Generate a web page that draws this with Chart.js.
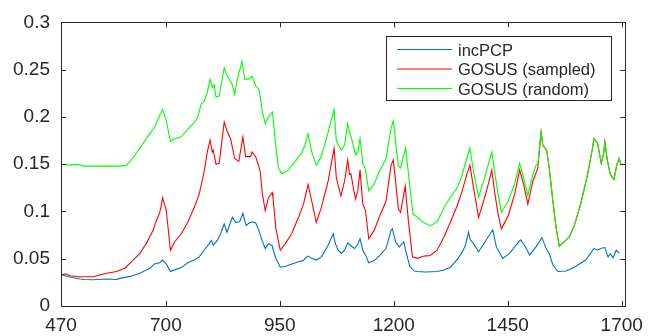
<!DOCTYPE html>
<html>
<head>
<meta charset="utf-8">
<title>incPCP vs GOSUS</title>
<script src="https://cdn.jsdelivr.net/npm/chart.js@4.4.1/dist/chart.umd.min.js"></script>
<style>
  html, body { margin: 0; padding: 0; background: #fff; }
  #wrap { width: 651px; height: 336px; }
</style>
</head>
<body>
<div id="wrap"><canvas id="chart" width="651" height="336"></canvas></div>
<script>
// ── данные ──
const xTicks = [470, 700, 950, 1200, 1450, 1700];
const yTicks = [0, 0.05, 0.1, 0.15, 0.2, 0.25, 0.3];

const seriesNames  = ['incPCP', 'GOSUS (sampled)', 'GOSUS (random)'];
const seriesColors = ['#0072BD', '#FF0000', '#00FF00'];

const incX = [470, 490, 512, 520, 541, 570, 592, 599, 621, 643, 657, 665, 675, 686, 693, 701, 710, 719, 734, 748,
  762, 773, 784, 795, 800, 804, 813, 820, 828, 834, 846, 853, 862, 869, 876, 882, 889, 897, 904, 911,
  918, 925, 933, 940, 951, 962, 976, 991, 1001, 1011, 1020, 1030, 1041, 1056, 1067, 1072, 1078, 1085, 1092, 1099,
  1105, 1114, 1121, 1126, 1132, 1138, 1145, 1157, 1168, 1183, 1194, 1197, 1204, 1212, 1222, 1228, 1235, 1245, 1251, 1270,
  1295, 1310, 1324, 1339, 1350, 1357, 1364, 1368, 1375, 1386, 1400, 1417, 1425, 1439, 1454, 1465, 1478, 1487, 1498, 1512,
  1525, 1534, 1541, 1549, 1560, 1578, 1599, 1621, 1639, 1647, 1655, 1663, 1670, 1675, 1681, 1688, 1695];
const incY = [0.033, 0.0306, 0.0285, 0.028, 0.0278, 0.0285, 0.028, 0.0292, 0.0313, 0.0347, 0.038, 0.040, 0.0445, 0.0458, 0.0486, 0.0445, 0.0365, 0.0382, 0.0406, 0.0458,
  0.0486, 0.052, 0.059, 0.066, 0.0694, 0.0643, 0.0694, 0.0764, 0.0868, 0.078, 0.0938, 0.0885, 0.089, 0.098, 0.0851, 0.0875, 0.089, 0.088, 0.080, 0.0694,
  0.0608, 0.066, 0.064, 0.052, 0.041, 0.0417, 0.0445, 0.0469, 0.048, 0.0528, 0.0504, 0.0486, 0.052, 0.0643, 0.0764, 0.066, 0.059, 0.0556, 0.059, 0.0667,
  0.064, 0.0608, 0.0653, 0.0712, 0.059, 0.0538, 0.0458, 0.048, 0.0528, 0.0608, 0.080, 0.0816, 0.0677, 0.0625, 0.0677, 0.055, 0.042, 0.037, 0.0365, 0.036,
  0.0365, 0.038, 0.041, 0.049, 0.057, 0.064, 0.078, 0.070, 0.066, 0.0573, 0.0677, 0.0806, 0.0625, 0.0504, 0.0556, 0.0625, 0.070, 0.0643, 0.054, 0.0625,
  0.0723, 0.061, 0.0556, 0.0434, 0.0365, 0.037, 0.0417, 0.0486, 0.0608, 0.059, 0.061, 0.0618, 0.052, 0.055, 0.051, 0.059, 0.056];

// после ~1520 обе кривые GOSUS совпадают
const sampX = [470, 480, 490, 512, 541, 556, 570, 592, 610, 625, 643, 657, 672, 679, 686, 689, 693, 701, 710, 719,
  734, 748, 762, 773, 784, 791, 797, 802, 804, 810, 817, 828, 835, 842, 851, 860, 869, 875, 886, 889,
  897, 904, 907, 912, 918, 925, 933, 935, 941, 951, 962, 976, 991, 1002, 1012, 1020, 1030, 1041, 1056, 1069,
  1074, 1084, 1092, 1099, 1103, 1106, 1110, 1116, 1121, 1126, 1132, 1138, 1145, 1157, 1168, 1183, 1194, 1199, 1204, 1210,
  1215, 1225, 1232, 1241, 1252, 1266, 1280, 1295, 1310, 1324, 1339, 1349, 1360, 1367, 1375, 1386, 1397, 1407, 1415, 1422,
  1429, 1436, 1451, 1465, 1476, 1485, 1494, 1505, 1512, 1516, 1523, 1527, 1532, 1536, 1541, 1549, 1556, 1563, 1574, 1585,
  1596, 1610, 1625, 1636, 1639, 1647, 1655, 1660, 1663, 1668, 1675, 1683, 1689, 1694, 1699];
const sampY = [0.033, 0.034, 0.032, 0.031, 0.031, 0.033, 0.0347, 0.0365, 0.040, 0.047, 0.0556, 0.066, 0.080, 0.090, 0.098, 0.104, 0.1146, 0.1007, 0.059, 0.0677,
  0.0764, 0.0885, 0.104, 0.118, 0.142, 0.163, 0.1754, 0.163, 0.165, 0.150, 0.151, 0.1945, 0.184, 0.177, 0.156, 0.153, 0.179, 0.158, 0.158, 0.163,
  0.158, 0.1476, 0.142, 0.118, 0.1007, 0.1146, 0.120, 0.115, 0.083, 0.059, 0.066, 0.0764, 0.0938, 0.108, 0.1285, 0.111, 0.0885, 0.104, 0.132, 0.1667,
  0.1354, 0.1163, 0.132, 0.1545, 0.139, 0.140, 0.1285, 0.113, 0.1215, 0.144, 0.1077, 0.1007, 0.0712, 0.080, 0.0938, 0.111, 0.149, 0.1545, 0.132, 0.1025,
  0.099, 0.127, 0.090, 0.052, 0.0504, 0.0528, 0.0535, 0.059, 0.073, 0.0885, 0.106, 0.120, 0.139, 0.149, 0.125, 0.0938, 0.111, 0.1285, 0.144, 0.118,
  0.097, 0.0816, 0.0955, 0.118, 0.144, 0.1285, 0.1077, 0.132, 0.1406, 0.146, 0.184, 0.170, 0.167, 0.163, 0.146, 0.111, 0.083, 0.063, 0.068, 0.073,
  0.085, 0.108, 0.139, 0.167, 0.177, 0.172, 0.151, 0.160, 0.174, 0.155, 0.139, 0.134, 0.149, 0.156, 0.149];

const randX = [470, 490, 505, 520, 560, 600, 614, 625, 643, 657, 675, 686, 693, 701, 710, 719, 734, 748, 762, 770,
  777, 784, 791, 797, 802, 806, 810, 817, 828, 835, 846, 851, 857, 867, 873, 882, 889, 897, 904, 907,
  912, 918, 925, 934, 940, 947, 954, 969, 984, 998, 1005, 1012, 1020, 1030, 1041, 1056, 1069, 1074, 1085, 1092,
  1099, 1103, 1109, 1116, 1121, 1126, 1132, 1138, 1145, 1157, 1168, 1183, 1194, 1199, 1204, 1210, 1215, 1226, 1234, 1242,
  1252, 1262, 1280, 1295, 1310, 1324, 1339, 1349, 1360, 1367, 1375, 1386, 1397, 1407, 1415, 1422, 1429, 1436, 1451, 1465,
  1476, 1485, 1494, 1505, 1512, 1516, 1523, 1527, 1532, 1536, 1541, 1549, 1556, 1563, 1574, 1585, 1596, 1610, 1625, 1636,
  1639, 1647, 1655, 1660, 1663, 1668, 1675, 1683, 1689, 1694, 1699];
const randY = [0.150, 0.149, 0.150, 0.148, 0.148, 0.148, 0.149, 0.155, 0.167, 0.177, 0.189, 0.201, 0.208, 0.196, 0.174, 0.177, 0.179, 0.187, 0.194, 0.200,
  0.213, 0.217, 0.226, 0.240, 0.231, 0.234, 0.221, 0.222, 0.252, 0.243, 0.234, 0.224, 0.240, 0.259, 0.240, 0.240, 0.243, 0.233, 0.229, 0.221,
  0.205, 0.193, 0.200, 0.205, 0.174, 0.146, 0.140, 0.144, 0.153, 0.162, 0.170, 0.182, 0.163, 0.149, 0.158, 0.184, 0.208, 0.174, 0.165, 0.170,
  0.193, 0.184, 0.174, 0.160, 0.163, 0.177, 0.151, 0.144, 0.122, 0.129, 0.142, 0.156, 0.188, 0.196, 0.174, 0.148, 0.146, 0.167, 0.132, 0.097,
  0.094, 0.089, 0.085, 0.089, 0.104, 0.115, 0.125, 0.137, 0.156, 0.167, 0.142, 0.115, 0.132, 0.149, 0.163, 0.139, 0.118, 0.099, 0.111, 0.129,
  0.151, 0.135, 0.117, 0.139, 0.149, 0.150, 0.184, 0.170, 0.167, 0.163, 0.146, 0.111, 0.083, 0.063, 0.068, 0.073, 0.085, 0.108, 0.139, 0.167,
  0.177, 0.172, 0.151, 0.160, 0.174, 0.155, 0.139, 0.134, 0.149, 0.156, 0.149];

const FONT = '"Liberation Sans", Arial, Helvetica, sans-serif';
const AXIS = '#262626';

function toPoints(xs, ys) {
  return xs.map((x, i) => ({ x: x, y: ys[i] }));
}

// ── рамка осей с тиками внутрь (как в MATLAB) ──
const boxPlugin = {
  id: 'box',
  afterDatasetsDraw(chart) {
    const { ctx, chartArea: a, scales } = chart;
    const tl = 5;
    ctx.save();
    ctx.strokeStyle = AXIS;
    ctx.lineWidth = 1;
    ctx.beginPath();
    xTicks.forEach(v => {
      const px = Math.round(scales.x.getPixelForValue(v)) + 0.5;
      ctx.moveTo(px, a.bottom); ctx.lineTo(px, a.bottom - tl);
      ctx.moveTo(px, a.top);    ctx.lineTo(px, a.top + tl);
    });
    yTicks.forEach(v => {
      const py = Math.round(scales.y.getPixelForValue(v)) + 0.5;
      ctx.moveTo(a.left, py);  ctx.lineTo(a.left + tl, py);
      ctx.moveTo(a.right, py); ctx.lineTo(a.right - tl, py);
    });
    ctx.stroke();
    ctx.strokeRect(Math.round(a.left) + 0.5, Math.round(a.top) + 0.5,
      Math.round(a.right - a.left), Math.round(a.bottom - a.top));
    ctx.restore();
  }
};

// ── легенда в рамке, правый верхний угол ──
const legendPlugin = {
  id: 'boxLegend',
  afterDraw(chart) {
    const ctx = chart.ctx;
    const bx = 386.5, by = 36.5, bw = 225, bh = 64;
    ctx.save();
    ctx.fillStyle = '#fff';
    ctx.fillRect(bx, by, bw, bh);
    ctx.strokeStyle = AXIS;
    ctx.lineWidth = 1;
    ctx.strokeRect(bx, by, bw, bh);
    ctx.font = '16.5px ' + FONT;
    ctx.textBaseline = 'middle';
    ctx.textAlign = 'left';
    seriesNames.forEach((name, i) => {
      const y = 49.5 + i * 19.5;
      ctx.strokeStyle = seriesColors[i];
      ctx.beginPath();
      ctx.moveTo(397, y); ctx.lineTo(452, y);
      ctx.stroke();
      ctx.fillStyle = AXIS;
      ctx.fillText(name, 458, y + 1.5);
    });
    ctx.restore();
  }
};

const allX = [incX, sampX, randX];
const allY = [incY, sampY, randY];

new Chart(document.getElementById('chart'), {
  type: 'line',
  data: {
    datasets: seriesNames.map((name, i) => ({
      label: name,
      data: toPoints(allX[i], allY[i]),
      borderColor: seriesColors[i],
      backgroundColor: seriesColors[i],
      borderWidth: 1.1,
      pointRadius: 0,
      tension: 0,
      fill: false,
      order: 2 - i, // зелёная поверх красной
    })),
  },
  options: {
    responsive: false,
    animation: false,
    events: [],
    layout: { padding: { top: 18, right: 22, left: 0, bottom: 0 } },
    plugins: { legend: { display: false }, tooltip: { enabled: false } },
    scales: {
      x: {
        type: 'linear', min: 470, max: 1708,
        afterBuildTicks: s => { s.ticks = xTicks.map(v => ({ value: v })); },
        afterFit: s => { s.height = 30; },
        grid: { display: false, drawTicks: false },
        border: { display: false },
        ticks: {
          color: AXIS, font: { family: FONT, size: 19 }, padding: 8, maxRotation: 0, autoSkip: false,
          callback: v => String(v),
        },
      },
      y: {
        min: 0, max: 0.3,
        afterBuildTicks: s => { s.ticks = yTicks.map(v => ({ value: v })); },
        afterFit: s => { s.width = 61; },
        grid: { display: false, drawTicks: false },
        border: { display: false },
        ticks: {
          color: AXIS, font: { family: FONT, size: 19 }, padding: 11,
          callback: v => String(+v.toFixed(2)),
        },
      },
    },
  },
  plugins: [boxPlugin, legendPlugin],
});
</script>
</body>
</html>
